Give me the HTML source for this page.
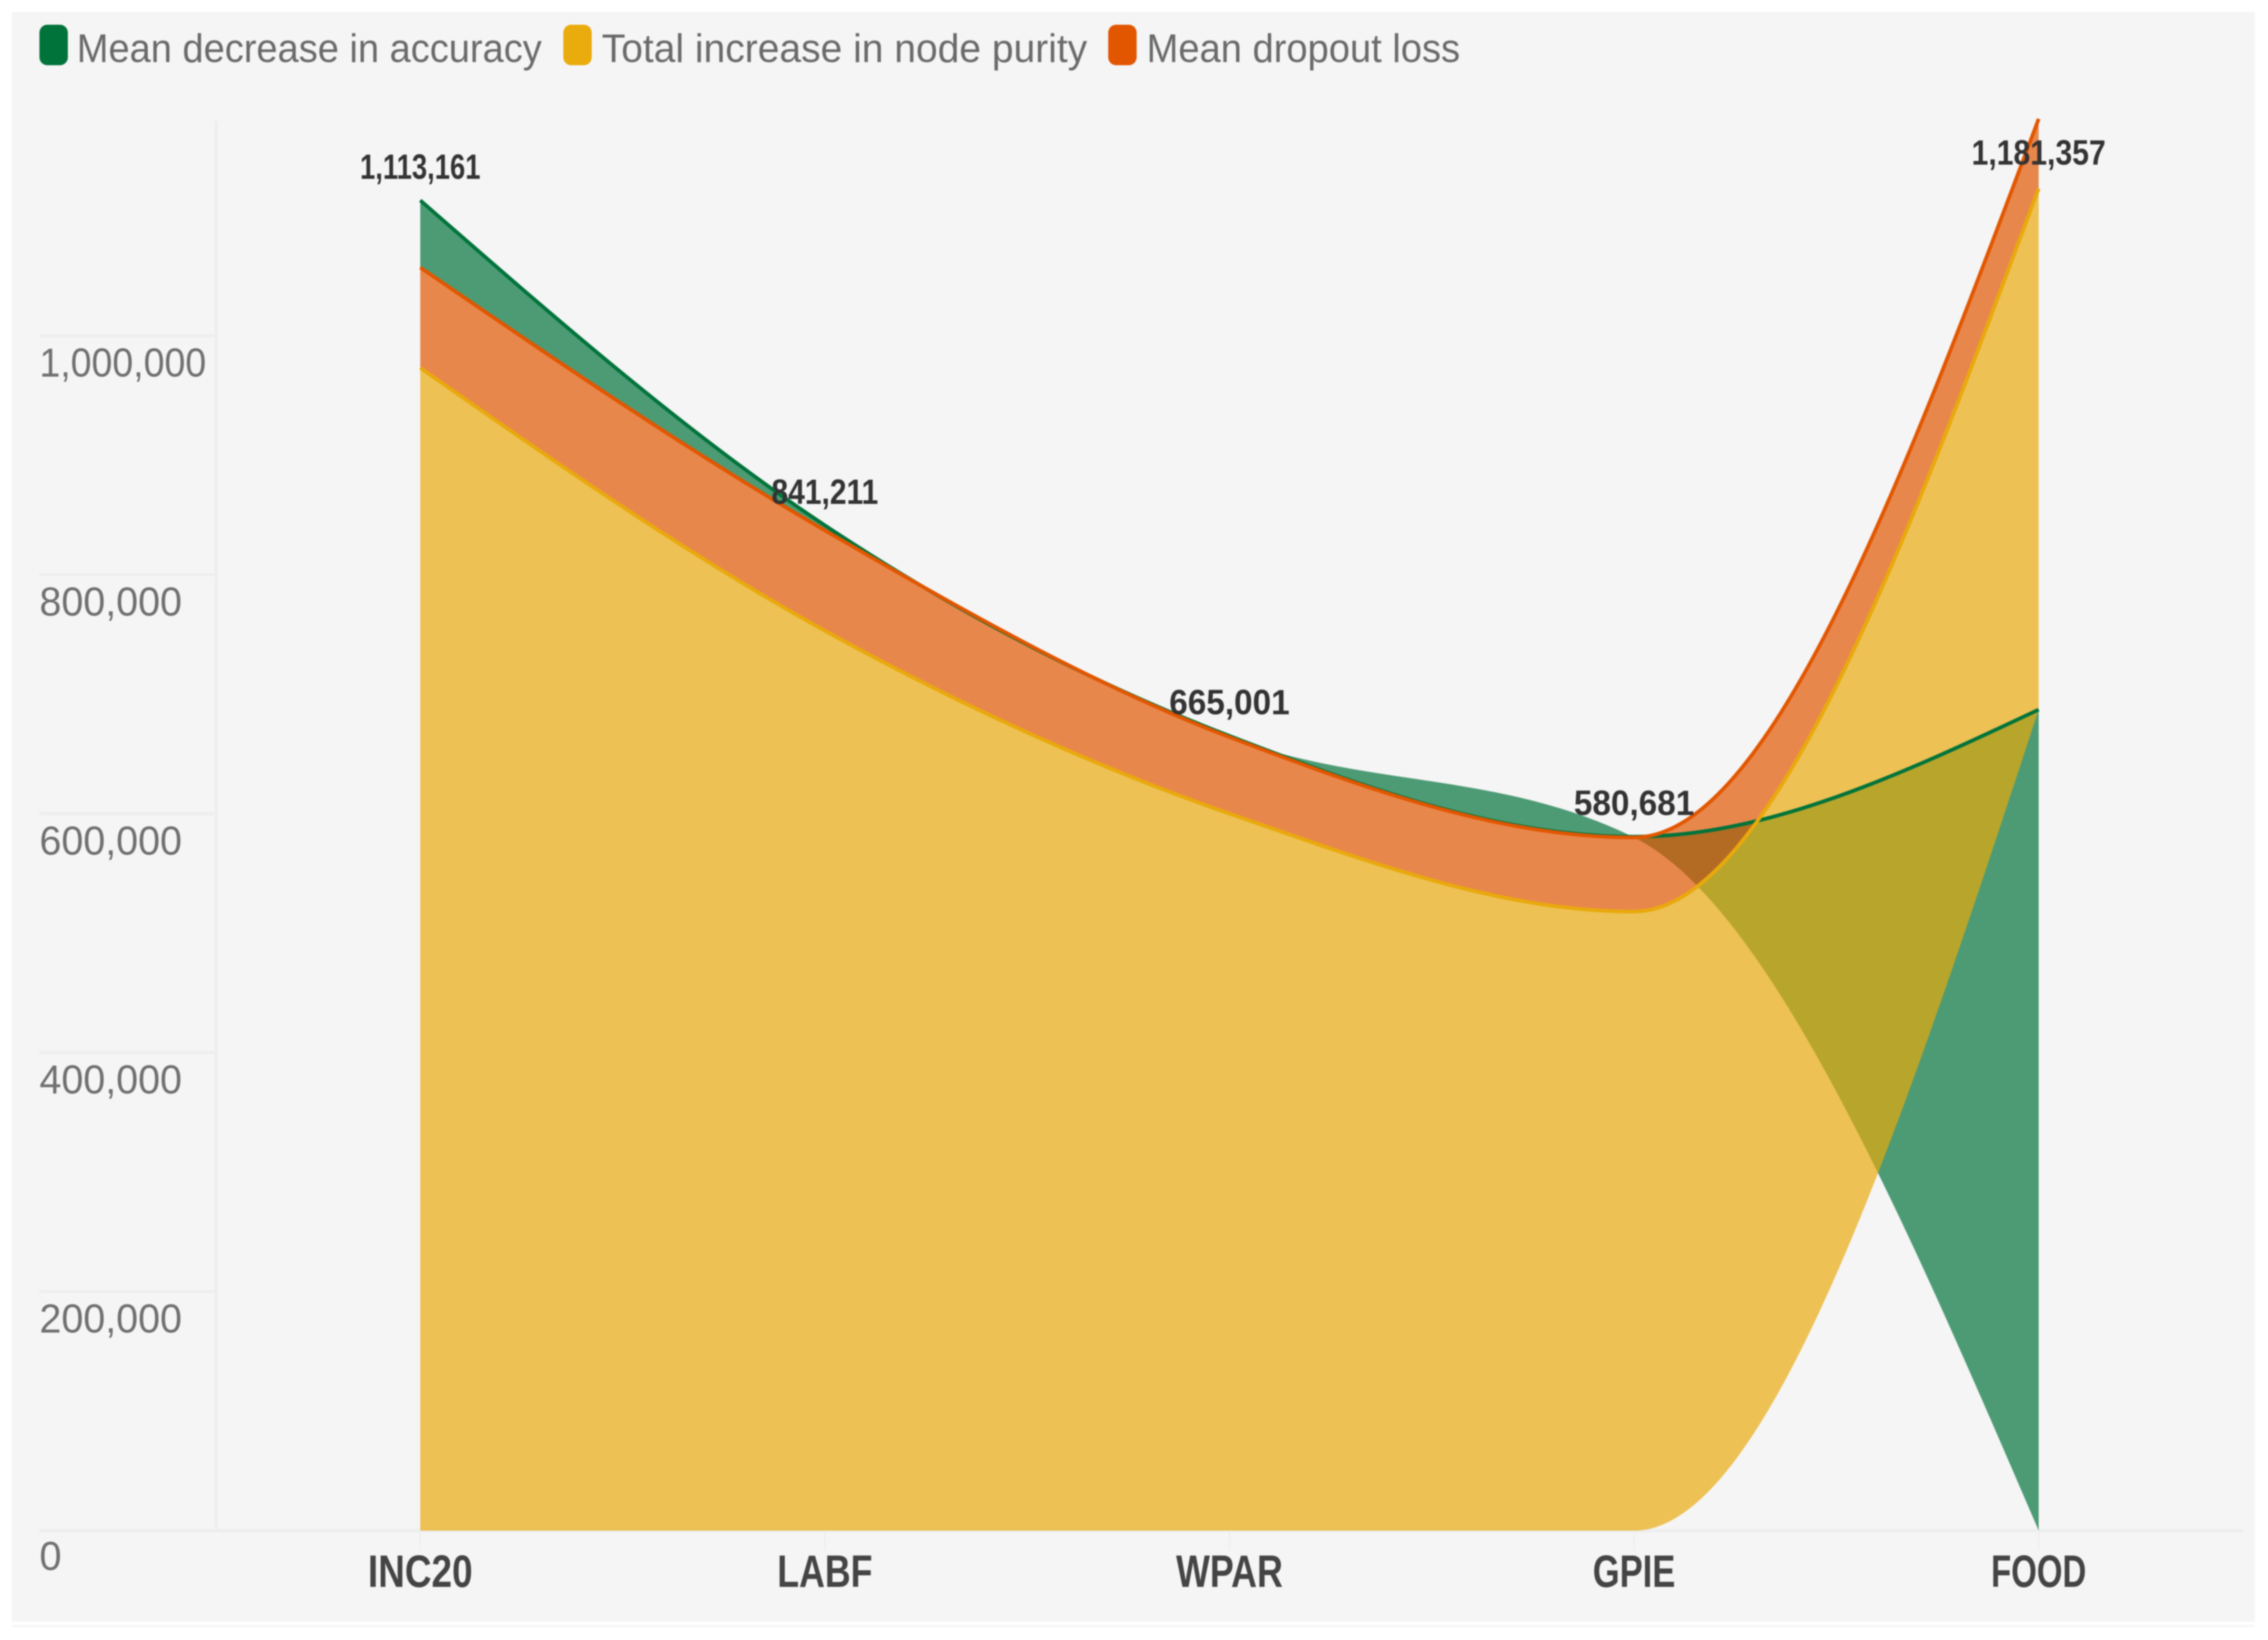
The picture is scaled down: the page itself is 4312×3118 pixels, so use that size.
<!DOCTYPE html>
<html lang="en">
<head>
<meta charset="utf-8">
<title>Variable importance ribbon chart</title>
<style>
html,body{margin:0;padding:0;background:#fff;width:4312px;height:3118px;overflow:hidden}
svg{display:block;filter:blur(1.2px)}
text{font-family:"Liberation Sans",sans-serif}
</style>
</head>
<body>
<svg id="chart" xmlns="http://www.w3.org/2000/svg" width="4312" height="3118" viewBox="0 0 4312 3118">
  <rect x="22" y="3089" width="4265" height="4" fill="#f5f5f5"/>
  <rect x="22" y="23" width="4265" height="3060" fill="#f5f5f5"/>
  <g id="grid"></g>
  <g id="fills"></g>
  <g id="lines"></g>
  <g id="labels"></g>
  <g>
    <g>
      <rect x="75" y="47" width="54" height="77" rx="15" fill="#00733a"/>
      <text x="146" y="118" font-size="76" fill="#6a6a6a" textLength="884" lengthAdjust="spacingAndGlyphs">Mean decrease in accuracy</text>
    </g>
    <g>
      <rect x="1071" y="47" width="54" height="77" rx="15" fill="#eaab0c"/>
      <text x="1144" y="118" font-size="76" fill="#6a6a6a" textLength="923" lengthAdjust="spacingAndGlyphs">Total increase in node purity</text>
    </g>
    <g>
      <rect x="2107" y="47" width="54" height="77" rx="15" fill="#e25600"/>
      <text x="2180" y="118" font-size="76" fill="#6a6a6a" textLength="596" lengthAdjust="spacingAndGlyphs">Mean dropout loss</text>
    </g>
  </g>
</svg>
<script>
const categories = ["INC20", "LABF", "WPAR", "GPIE", "FOOD"];
const accuracyValues = [56161, 4211, 1001, 681, 687000];
const purityValues = [973000, 753000, 600000, 518000, 436000];
const dropoutValues = [84000, 84000, 64000, 62000, 58357];
const yTickValues = [0, 200000, 400000, 600000, 800000, 1000000];

const NS = "http://www.w3.org/2000/svg";
const gridGroup = document.getElementById("grid");
const fillGroup = document.getElementById("fills");
const lineGroup = document.getElementById("lines");
const labelGroup = document.getElementById("labels");

const xScale = i => 799 + i * 769.25;
const yScale = v => 2910 - v * 0.002272;

const seriesDefs = [
  { key: "accuracy", values: accuracyValues, color: "#00733a" },
  { key: "purity", values: purityValues, color: "#e9a90c" },
  { key: "dropout", values: dropoutValues, color: "#e25600" }
];

/* Each category stacks the series largest-first from the baseline. */
const stacks = categories.map((c, i) => {
  const order = seriesDefs.slice().sort((a, b) => b.values[i] - a.values[i]);
  let run = 0;
  const out = {};
  order.forEach(s => { out[s.key] = [run, run + s.values[i]]; run += s.values[i]; });
  out.total = run;
  return out;
});

/* Monotone-x cubic tangents. */
function tangents(px, py) {
  const n = px.length, t = new Array(n).fill(0);
  const sign = v => (v < 0 ? -1 : 1);
  for (let i = 1; i < n - 1; i++) {
    const h0 = px[i] - px[i - 1], h1 = px[i + 1] - px[i];
    const s0 = (py[i] - py[i - 1]) / h0, s1 = (py[i + 1] - py[i]) / h1;
    const p = (s0 * h1 + s1 * h0) / (h0 + h1);
    t[i] = (sign(s0) + sign(s1)) * Math.min(Math.abs(s0), Math.abs(s1), 0.5 * Math.abs(p)) || 0;
  }
  t[0] = (3 * (py[1] - py[0]) / (px[1] - px[0]) - t[1]) / 2;
  t[n - 1] = (3 * (py[n - 1] - py[n - 2]) / (px[n - 1] - px[n - 2]) - t[n - 2]) / 2;
  return t;
}
function curve(px, py, reverse) {
  const t = tangents(px, py), n = px.length;
  let d = "";
  if (!reverse) {
    for (let i = 0; i < n - 1; i++) {
      const h = (px[i + 1] - px[i]) / 3;
      d += ` C${px[i] + h},${py[i] + h * t[i]} ${px[i + 1] - h},${py[i + 1] - h * t[i + 1]} ${px[i + 1]},${py[i + 1]}`;
    }
  } else {
    for (let i = n - 1; i > 0; i--) {
      const h = (px[i] - px[i - 1]) / 3;
      d += ` C${px[i] - h},${py[i] - h * t[i]} ${px[i - 1] + h},${py[i - 1] + h * t[i - 1]} ${px[i - 1]},${py[i - 1]}`;
    }
  }
  return d;
}

const px = categories.map((c, i) => xScale(i));

/* Grid and axes */
yTickValues.forEach(v => {
  const l = document.createElementNS(NS, "line");
  
  
  l.setAttribute("x1", 75);
  l.setAttribute("x2", v === 0 ? 4265 : 411);
  l.setAttribute("y1", yScale(v));
  l.setAttribute("y2", yScale(v));
  l.setAttribute("stroke", "#eeeeee");
  l.setAttribute("stroke-width", v === 0 ? 7 : 6);
  gridGroup.appendChild(l);
});
const axisLine = document.createElementNS(NS, "line");


axisLine.setAttribute("x1", 411);
axisLine.setAttribute("x2", 411);
axisLine.setAttribute("y1", 230);
axisLine.setAttribute("y2", 2910);
axisLine.setAttribute("stroke", "#eeeeee");
axisLine.setAttribute("stroke-width", 6);
gridGroup.appendChild(axisLine);
categories.forEach((c, i) => {
  const t = document.createElementNS(NS, "line");
  
  
  t.setAttribute("x1", xScale(i));
  t.setAttribute("x2", xScale(i));
  t.setAttribute("y1", 2910);
  t.setAttribute("y2", 2948);
  t.setAttribute("stroke", "#eeeeee");
  t.setAttribute("stroke-width", 3);
  gridGroup.appendChild(t);
});

/* Ribbons */
seriesDefs.forEach(s => {
  const lower = stacks.map(st => yScale(st[s.key][0]));
  const upper = stacks.map(st => yScale(st[s.key][1]));
  const area = document.createElementNS(NS, "path");
  
  
  area.setAttribute("d", `M${px[0]},${upper[0]}` + curve(px, upper, false) + ` L${px[px.length - 1]},${lower[px.length - 1]}` + curve(px, lower, true) + " Z");
  area.setAttribute("fill", s.color);
  area.setAttribute("fill-opacity", "0.69");
  fillGroup.appendChild(area);
  const line = document.createElementNS(NS, "path");
  
  
  line.setAttribute("d", `M${px[0]},${upper[0]}` + curve(px, upper, false));
  line.setAttribute("fill", "none");
  line.setAttribute("stroke", s.color);
  line.setAttribute("stroke-width", 7);
  lineGroup.appendChild(line);
});

/* Approximate glyph advances, used to fit the condensed look of the labels. */
const boldAdvance = { "1": 25, ",": 14 };
const tickAdvance = { "1": 27, ",": 19 };
const capAdvance = { I: 22, N: 46, C: 44, "2": 42, "0": 45, L: 38, A: 52, B: 48, F: 43, W: 60, P: 45, R: 46, G: 47, E: 43, O: 46, D: 46 };
const widthOf = (str, table, fallback) => str.split("").reduce((a, ch) => a + (table[ch] !== undefined ? table[ch] : fallback), 0);
const fmt = v => Math.round(v).toString().replace(/\B(?=(\d{3})+(?!\d))/g, ",");

function addText(str, x, y, size, color, weight, anchor, width) {
  const el = document.createElementNS(NS, "text");
  el.setAttribute("x", x);
  el.setAttribute("y", y);
  el.setAttribute("font-size", size);
  el.setAttribute("fill", color);
  el.setAttribute("font-weight", weight);
  el.setAttribute("text-anchor", anchor);
  el.setAttribute("textLength", width);
  el.setAttribute("lengthAdjust", "spacingAndGlyphs");
  el.textContent = str;
  labelGroup.appendChild(el);
  return el;
}

yTickValues.forEach(v => {
  const s = fmt(v);
  const el = addText(s, 75, yScale(v) + (v === 0 ? 75 : 78), 77, "#707070", "normal", "start", widthOf(s, tickAdvance, 42));
  
  
});
categories.forEach((c, i) => {
  const el = addText(c, xScale(i), 3017, 86, "#444444", "bold", "middle", widthOf(c, capAdvance, 45));
  
  
});
stacks.forEach((st, i) => {
  const s = fmt(st.total);
  const el = addText(s, xScale(i), Math.max(yScale(st.total) - 41, 313), 67, "#333333", "bold", "middle", widthOf(s, boldAdvance, 38));
  
  
});
</script>
</body>
</html>
